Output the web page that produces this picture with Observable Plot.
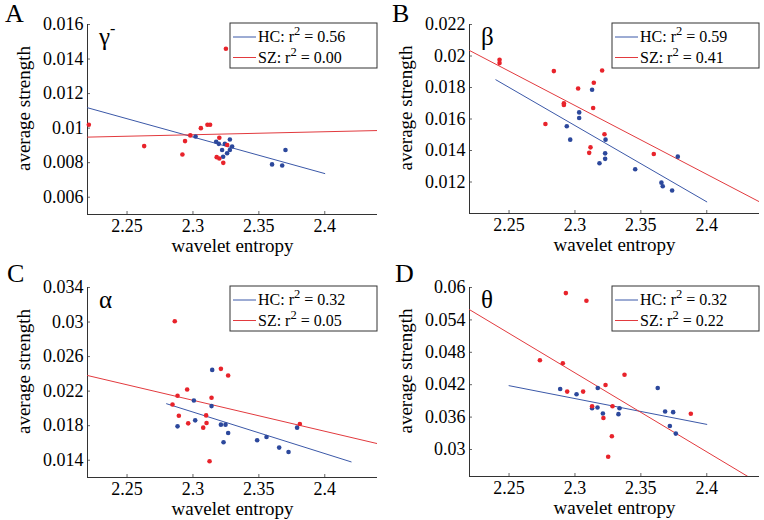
<!DOCTYPE html>
<html><head><meta charset="utf-8">
<script src="https://cdn.jsdelivr.net/npm/d3@7"></script>
<script src="https://cdn.jsdelivr.net/npm/@observablehq/plot@0.6"></script>
<style>
body{margin:0;background:#fff;}
#fig{position:relative;width:764px;height:520px;overflow:hidden;background:#fff;}
.panel{position:absolute;width:382px;height:260px;}
.panel svg, .panel svg text{font-family:'Liberation Serif','Times New Roman',serif !important;}
</style></head><body><div id="fig"></div>
<script>
// ---------- data ----------
const xDomain = [2.22, 2.44];
const xTicks = [2.25, 2.3, 2.35, 2.4];
const xLabel = "wavelet entropy";
const yLabel = "average strength";
const groups = ["HC", "SZ"];

// Panel A: gamma-
const A_yTicks = [0.006, 0.008, 0.01, 0.012, 0.014, 0.016];
const A_hc = [[2.302,0.00952],[2.3176,0.00921],[2.3196,0.00909],[2.3242,0.00909],[2.328,0.00934],[2.3221,0.00873],[2.3297,0.00894],[2.328,0.00873],[2.3259,0.00855],[2.3229,0.00834],[2.360,0.0079],[2.3677,0.00784],[2.3702,0.00873]];
const A_sz = [[2.221,0.0102],[2.263,0.00896],[2.292,0.00847],[2.294,0.00925],[2.298,0.00958],[2.306,0.0100],[2.311,0.0102],[2.313,0.0102],[2.320,0.00944],[2.318,0.00832],[2.320,0.00824],[2.323,0.00799],[2.325,0.0146],[2.326,0.00902]];
const A_hcFit = [[2.22,0.01118],[2.4,0.00737]];
const A_szFit = [[2.22,0.00948],[2.44,0.00986]];
const A_r2 = ["0.56", "0.00"];

// Panel B: beta
const B_yTicks = [0.012, 0.014, 0.016, 0.018, 0.02, 0.022];
const B_hc = [[2.313,0.01786],[2.3032,0.01642],[2.3032,0.01606],[2.2938,0.01554],[2.2964,0.01469],[2.3232,0.01469],[2.3229,0.01382],[2.3229,0.01347],[2.3186,0.01319],[2.3457,0.01281],[2.378,0.01361],[2.3656,0.01196],[2.3666,0.01173],[2.3737,0.01146]];
const B_sz = [[2.2428,0.01976],[2.2428,0.01955],[2.284,0.01904],[2.3206,0.01908],[2.3143,0.0183],[2.3024,0.01794],[2.2916,0.0170],[2.2916,0.01689],[2.3138,0.0167],[2.2776,0.01568],[2.3224,0.01503],[2.3118,0.0142],[2.3108,0.01385],[2.3598,0.01378]];
const B_hcFit = [[2.24,0.01849],[2.4,0.01074]];
const B_szFit = [[2.22,0.02035],[2.44,0.01074]];
const B_r2 = ["0.59", "0.41"];

// Panel C: alpha
const C_yTicks = [0.014, 0.018, 0.022, 0.026, 0.03, 0.034];
const C_hc = [[2.3146,0.02446],[2.3007,0.02092],[2.3141,0.02027],[2.2883,0.01792],[2.3017,0.01862],[2.3212,0.01812],[2.3247,0.01812],[2.3267,0.01715],[2.3232,0.01608],[2.3487,0.01631],[2.3558,0.01669],[2.3654,0.01546],[2.3725,0.01496],[2.379,0.01777]];
const C_sz = [[2.2862,0.0301],[2.2845,0.02046],[2.2883,0.02146],[2.2956,0.02219],[2.2893,0.01915],[2.2964,0.01827],[2.3078,0.01777],[2.3100,0.01919],[2.3103,0.01831],[2.3141,0.02123],[2.3126,0.01388],[2.3212,0.02458],[2.3267,0.02381],[2.3811,0.01819]];
const C_hcFit = [[2.28,0.02054],[2.42,0.01381]];
const C_szFit = [[2.22,0.02381],[2.44,0.01592]];
const C_r2 = ["0.32", "0.05"];

// Panel D: theta
const D_yTicks = [0.03, 0.036, 0.042, 0.048, 0.054, 0.06];
const D_hc = [[2.2888,0.0412],[2.3012,0.04023],[2.3173,0.04139],[2.3628,0.04139],[2.3130,0.03765],[2.3171,0.03778],[2.3212,0.03667],[2.3330,0.03655],[2.3338,0.03765],[2.3684,0.03704],[2.3745,0.03692],[2.372,0.03435],[2.3765,0.03294]];
const D_sz = [[2.2931,0.05896],[2.3087,0.05756],[2.2734,0.04653],[2.2908,0.04598],[2.3376,0.04384],[2.3232,0.04194],[2.2941,0.04072],[2.3062,0.04072],[2.3130,0.03802],[2.3285,0.03802],[2.3216,0.03582],[2.3280,0.03245],[2.3252,0.02865],[2.3879,0.03661]];
const D_hcFit = [[2.25,0.04182],[2.4,0.03465]];
const D_szFit = [[2.22,0.0559],[2.44,0.02371]];
const D_r2 = ["0.32", "0.22"];

// ---------- styling / layout ----------
const blueDot = "#2c489c", redDot = "#e8232b";
const blueLine = "#3b58a8", redLine = "#e23a3e";
const font = "'Liberation Serif', 'Times New Roman', serif";

const panels = [
  {letter:"A", greek:"γ", sup:"-", left:0,   top:0,   yDomain:[0.005,0.016], yTicks:A_yTicks, hc:A_hc, sz:A_sz, hcFit:A_hcFit, szFit:A_szFit, r2:A_r2, mt:24, mb:46, lx:5},
  {letter:"B", greek:"β", sup:"",  left:382, top:0,   yDomain:[0.010,0.022], yTicks:B_yTicks, hc:B_hc, sz:B_sz, hcFit:B_hcFit, szFit:B_szFit, r2:B_r2, mt:24, mb:47, lx:10},
  {letter:"C", greek:"α", sup:"",  left:0,   top:260, yDomain:[0.012,0.034], yTicks:C_yTicks, hc:C_hc, sz:C_sz, hcFit:C_hcFit, szFit:C_szFit, r2:C_r2, mt:27, mb:43, lx:7},
  {letter:"D", greek:"θ", sup:"",  left:382, top:260, yDomain:[0.025,0.060], yTicks:D_yTicks, hc:D_hc, sz:D_sz, hcFit:D_hcFit, szFit:D_szFit, r2:D_r2, mt:27, mb:44, lx:13}
];

const fig = document.getElementById("fig");
const W = 382, H = 260, ML = 87, MR = 5;
const fmtY = d => String(+d.toFixed(3));

for (const p of panels) {
  const plot = Plot.plot({
    width: W, height: H, marginLeft: ML, marginRight: MR, marginTop: p.mt, marginBottom: p.mb,
    style: {fontFamily: font, fontSize: "18px", color: "#000", background: "transparent", overflow: "visible"},
    x: {domain: xDomain},
    y: {domain: p.yDomain},
    marks: [
      // tick labels
      Plot.axisX(xTicks, {tickSize: 0, tickPadding: 5, tickFormat: d => String(d), label: null, fontSize: 18, fontFamily: font}),
      Plot.axisY(p.yTicks, {tickSize: 0, tickPadding: 4, tickFormat: fmtY, label: null, fontSize: 18, fontFamily: font}),
      // inward tick marks
      Plot.axisX(xTicks, {tickSize: 3, dy: -3, tickFormat: () => "", label: null, stroke: "#666"}),
      Plot.axisY(p.yTicks, {tickSize: 3, dx: 3, tickFormat: () => "", label: null, stroke: "#666"}),
      Plot.ruleX([xDomain[0]], {stroke: "#333", strokeWidth: 1}),
      Plot.ruleY([p.yDomain[0]], {stroke: "#333", strokeWidth: 1}),
      Plot.line(p.hcFit, {x: d => d[0], y: d => d[1], stroke: blueLine, strokeWidth: 1, clip: true}),
      Plot.line(p.szFit, {x: d => d[0], y: d => d[1], stroke: redLine, strokeWidth: 1, clip: true}),
      Plot.dot(p.hc, {x: d => d[0], y: d => d[1], r: 2.3, fill: blueDot}),
      Plot.dot(p.sz, {x: d => d[0], y: d => d[1], r: 2.3, fill: redDot}),
      Plot.text([xLabel], {frameAnchor: "bottom", textAnchor: "middle", dy: 31, fontSize: 19, lineAnchor: "middle", fontFamily: font}),
      Plot.text([yLabel], {frameAnchor: "left", textAnchor: "middle", dx: -64, dy: -11, rotate: -90, fontSize: 19, lineAnchor: "middle", fontFamily: font})
    ]
  });
  const svg = d3.select(plot);
  svg.attr("font-family", font);
  // panel letter
  svg.append("text").attr("x", p.lx).attr("y", 22).attr("text-anchor", "start").attr("font-family", font).attr("font-size", 26).attr("fill", "#000").text(p.letter);
  // greek band label
  const g = svg.append("text").attr("x", ML + 12).attr("y", p.mt + 21).attr("text-anchor", "start").attr("font-family", font).attr("font-size", 25).attr("fill", "#000").text(p.greek);
  if (p.sup) g.append("tspan").attr("font-size", 16).attr("dy", -11).text(p.sup);
  // legend
  const bw = 147, bh = 45, bx = W - MR - bw, by = p.mt - 1;
  const lg = svg.append("g").attr("font-family", font).attr("font-size", 16).attr("fill", "#000").attr("text-anchor", "start");
  lg.append("rect").attr("x", bx).attr("y", by).attr("width", bw).attr("height", bh).attr("fill", "#fff").attr("stroke", "#333").attr("stroke-width", 1);
  const cols = [blueLine, redLine];
  groups.forEach((name, i) => {
    const cy = by + 14 + i * 20.5;
    lg.append("line").attr("x1", bx + 3).attr("x2", bx + 26).attr("y1", cy).attr("y2", cy).attr("stroke", cols[i]).attr("stroke-width", 1);
    const t = lg.append("text").attr("x", bx + 28).attr("y", cy + 5).attr("text-anchor", "start");
    t.append("tspan").text(name + ": r");
    t.append("tspan").attr("font-size", 12.5).attr("dy", -7).text("2");
    t.append("tspan").attr("dy", 7).text(" = " + p.r2[i]);
  });
  const div = document.createElement("div");
  div.className = "panel";
  div.style.left = p.left + "px";
  div.style.top = p.top + "px";
  div.appendChild(plot);
  fig.appendChild(div);
}
</script>
</body></html>
